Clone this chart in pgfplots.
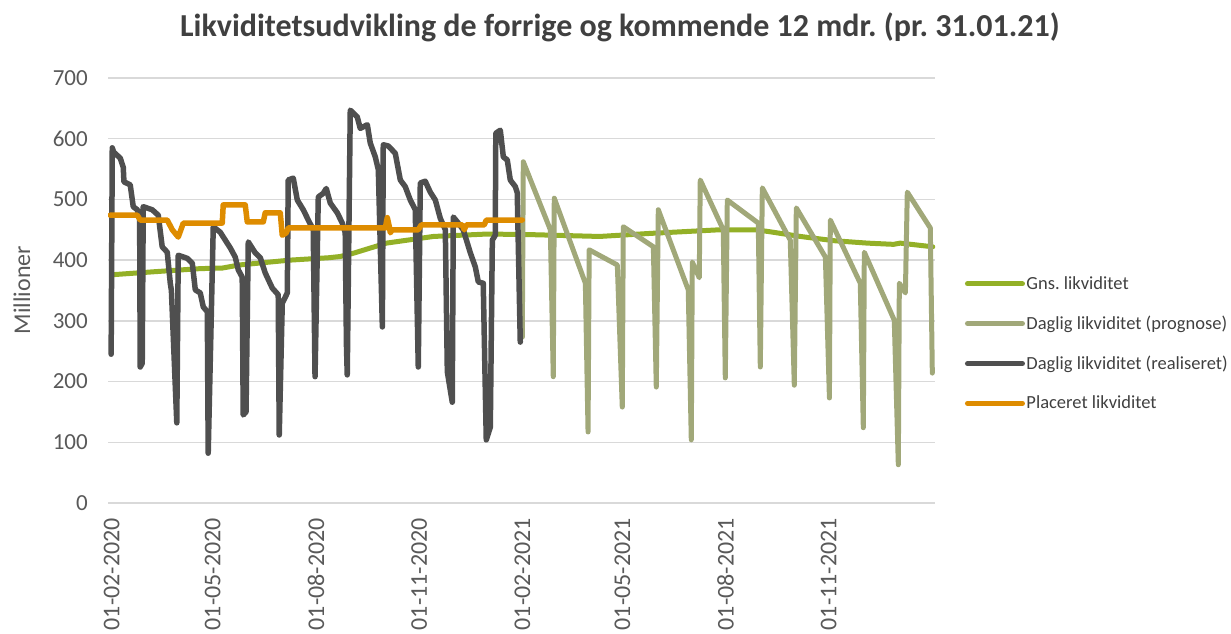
\documentclass[border=0pt]{standalone}
\usepackage{pgfplots}
\pgfplotsset{compat=1.18}
\usepackage{fontspec}
\setmainfont{Carlito}
\definecolor{gns}{HTML}{93B027}
\definecolor{prog}{HTML}{A1A879}
\definecolor{real}{HTML}{4F4F4F}
\definecolor{plac}{HTML}{DE8C00}
\definecolor{gridc}{HTML}{D9D9D9}
\definecolor{txt}{HTML}{595959}
\definecolor{ttl}{HTML}{404040}
\frenchspacing
\begin{document}
\begin{tikzpicture}[x=1bp,y=1bp]
\useasboundingbox (0,0) rectangle (1231,634);
\begin{axis}[
  at={(108bp,131bp)}, anchor=south west,
  scale only axis, width=827bp, height=425bp,
  xmin=-2, xmax=735, ymin=0, ymax=700,
  axis line style={draw=none},
  major tick length=0pt,
  ymajorgrids, grid style={gridc, line width=1.5bp},
  ytick={0,100,...,700},
  xtick={0,90,182,274,366,455,547,639},
  xticklabels={01-02-2020,01-05-2020,01-08-2020,01-11-2020,01-02-2021,01-05-2021,01-08-2021,01-11-2021},
  /pgf/number format/assume math mode=true,
  x tick label style={rotate=90, anchor=east, font=\fontsize{24bp}{27bp}\selectfont, text=txt, inner sep=0pt, xshift=-15bp, yshift=-1.5bp},
  y tick label style={anchor=east, font=\fontsize{23bp}{26bp}\selectfont, text=txt, inner sep=0pt, xshift=-20bp},
  ylabel={Millioner},
  ylabel style={at={(axis description cs:-0.104,0.501)}, anchor=center, font=\fontsize{24bp}{28bp}\selectfont, text=txt},
  title={\textbf{Likviditetsudvikling de forrige og kommende 12 mdr. (pr. 31.01.21)}},
  title style={at={(axis description cs:0.619,1.105)}, anchor=center, font=\fontsize{32bp}{36bp}\selectfont, text=ttl},
  legend cell align=left,
  legend style={draw=none, fill=none, at={(1.036,0.5364)}, anchor=north west,
    font=\fontsize{18.5bp}{22bp}\selectfont, text=ttl, inner sep=0pt, row sep=22bp,
    nodes={inner sep=1.5bp}},
  legend image code/.code={\draw[#1, line width=5bp, line cap=round] (0bp,0bp) -- (55bp,0bp);},
  every axis plot/.append style={line join=round, line cap=round},
]
\addplot[gns, line width=5bp] coordinates {
(2,376) (40,381) (80,386) (100,387) (115,392) (160,400) (195,404) (205,406) (216,411)
(246,428) (288,439) (336,443) (375,442) (436,439) (481,444) (543,450) (575,450)
(587,447) (615,439) (645,432) (675,428) (698,426) (704,428) (733,422)
};
\addlegendentry{Gns. likviditet}
\addplot[prog, line width=5bp] coordinates {
(367.2,273) (368.1,562) (392.2,450) (394.8,208) (395.7,502) (423.4,362) (425.8,117)
(426.8,417) (451.9,392) (456.3,158) (457.2,455) (484,422) (486.6,191) (488.4,483)
(515.1,351) (517.8,104) (518.7,397) (524.9,371) (525.8,532) (546.3,450) (548.1,206)
(549.9,499) (577.5,461) (579.3,224) (581.1,519) (606,433) (609.6,194) (611.4,486)
(637.3,405) (640.9,173) (641.7,466) (668.4,362) (671.1,124) (672,413) (698.7,301)
(702.3,63) (703.2,362) (708.6,346) (710.3,512) (730.8,453) (732.6,214)
};
\addlegendentry{Daglig likviditet (prognose)}
\addplot[real, line width=5.5bp] coordinates {
(0.8,245) (1.8,585) (3,578) (8.9,568) (11.6,553) (12.2,529) (17.8,524) (20.5,488)
(24.1,483) (26.2,470) (26.7,224) (28.5,230) (29.4,488) (37.4,483) (42.8,474)
(46.3,422) (50.8,413) (53.5,362) (54.5,350) (59.3,132) (60.6,408) (68.6,403)
(73.1,395) (75.8,351) (80.2,346) (82.9,323) (86.5,315) (87.3,82) (91.8,455)
(98,446) (102.5,433) (107,420) (111.4,405) (114.1,384) (117.6,372) (118.5,145)
(121,150) (123,430) (129.2,412) (133.7,404) (138.1,379) (144.4,354) (149.7,343)
(150.6,112) (153.3,329) (157.8,346) (158.6,532) (163.1,535) (166.7,499) (172,483)
(176.5,466) (180.9,450) (182.5,208) (185.4,504) (189.8,510) (192.5,518) (196.1,494)
(202.3,478) (206.8,461) (209.4,445) (210.5,260) (211.2,211) (213.9,647) (220.1,636)
(222.8,617) (229.1,623) (231.7,593) (236.2,570) (238.9,549) (242.5,290) (243.3,590)
(247.8,588) (254,576) (258.5,532) (262.9,521) (267.4,499) (271.8,483) (274.5,224)
(276.3,527) (280.7,530) (285.2,512) (289.7,499) (294.1,469) (298.6,450) (300.4,216)
(304.8,166) (305.7,471) (309.3,463) (314.6,450) (320.9,412) (325.3,389) (328,364)
(332.4,362) (335.1,104) (338.7,125) (340.5,433) (343.1,441) (343.6,609) (347.6,614)
(350.3,570) (353.8,565) (356.5,532) (361,521) (362.7,511) (365.4,265)
};
\addlegendentry{Daglig likviditet (realiseret)}
\addplot[plac, line width=5.5bp] coordinates {
(0,474) (24.1,474) (26.7,466) (50.8,466) (55.3,450) (60.6,438) (65.1,461) (99.8,461)
(100.7,491) (120.3,491) (122.1,463) (136.4,463) (138.1,478) (151.5,478) (153.3,441)
(156.9,445) (158.6,453) (245.1,453) (246.9,470) (248.7,455) (249.6,445) (251.3,450)
(274.5,450) (277.2,458) (313.7,458) (315.5,450) (317.3,458) (333.3,458) (335.1,466)
(367.2,466)
};
\addlegendentry{Placeret likviditet}
\end{axis}
\end{tikzpicture}
\end{document}
